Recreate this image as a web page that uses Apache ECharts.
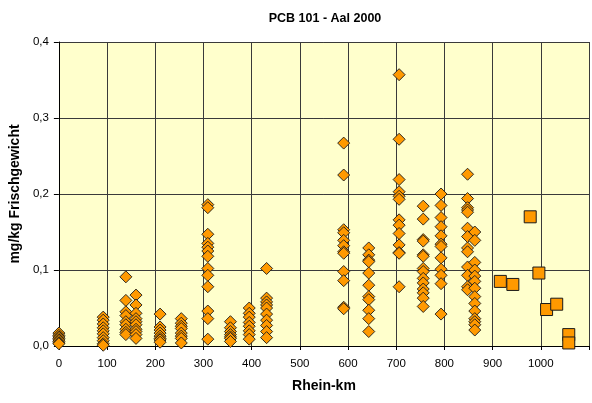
<!DOCTYPE html>
<html>
<head>
<meta charset="utf-8">
<script src="https://cdn.jsdelivr.net/npm/echarts@6/dist/echarts.min.js"></script>
<style>
  html, body { margin: 0; padding: 0; background: #ffffff; }
  #chart { width: 592px; height: 403px; }
</style>
</head>
<body>
<div id="chart"></div>
<script>
// Sampling sites along the Rhine (Rhein-km) and measured PCB 101 in eel (mg/kg wet weight)
const riverKm = [0, 92, 139, 160, 210, 254, 309, 356, 395, 431, 591, 643, 706, 756, 793, 848, 863];
const riverValues = [
  [0.017, 0.014, 0.012, 0.010, 0.008, 0.006, 0.004, 0.003],
  [0.038, 0.034, 0.029, 0.024, 0.020, 0.016, 0.011, 0.007, 0.003, 0.001],
  [0.091, 0.060, 0.045, 0.040, 0.032, 0.028, 0.022, 0.018, 0.015],
  [0.067, 0.054, 0.043, 0.036, 0.032, 0.028, 0.022, 0.019, 0.015, 0.010],
  [0.042, 0.025, 0.021, 0.017, 0.013, 0.010, 0.008, 0.005],
  [0.036, 0.030, 0.026, 0.023, 0.017, 0.013, 0.010, 0.004],
  [0.186, 0.182, 0.147, 0.135, 0.130, 0.125, 0.118, 0.102, 0.093, 0.078, 0.046, 0.036, 0.009],
  [0.032, 0.024, 0.019, 0.015, 0.012, 0.010, 0.006],
  [0.050, 0.043, 0.038, 0.031, 0.026, 0.020, 0.015, 0.009],
  [0.102, 0.063, 0.058, 0.054, 0.050, 0.042, 0.034, 0.027, 0.019, 0.011],
  [0.267, 0.225, 0.153, 0.149, 0.139, 0.132, 0.124, 0.122, 0.098, 0.086, 0.051, 0.049],
  [0.129, 0.120, 0.113, 0.111, 0.096, 0.080, 0.065, 0.061, 0.047, 0.036, 0.019],
  [0.357, 0.272, 0.219, 0.203, 0.197, 0.193, 0.166, 0.159, 0.148, 0.133, 0.123, 0.122, 0.078],
  [0.184, 0.167, 0.140, 0.138, 0.120, 0.118, 0.102, 0.098, 0.089, 0.083, 0.075, 0.070, 0.063, 0.052],
  [0.200, 0.185, 0.169, 0.157, 0.145, 0.134, 0.131, 0.116, 0.101, 0.093, 0.082, 0.042],
  [0.226, 0.194, 0.182, 0.179, 0.176, 0.155, 0.144, 0.129, 0.124, 0.104, 0.093, 0.078, 0.074],
  [0.150, 0.139, 0.110, 0.100, 0.092, 0.085, 0.076, 0.065, 0.056, 0.046, 0.036, 0.032, 0.028, 0.021]
];

// Lower Rhine / delta sites, shown as squares
const deltaKm = [916, 942, 978, 996, 1012, 1033, 1058, 1058];
const deltaValues = [0.085, 0.081, 0.170, 0.096, 0.048, 0.055, 0.015, 0.004];

const xTicks = { min: 0, max: 1100, step: 100 };
const yTicks = { min: 0, max: 0.4, step: 0.1 };

const riverData = [];
riverKm.forEach((km, i) => riverValues[i].forEach(v => riverData.push([km, v])));
const deltaData = deltaKm.map((km, i) => [km, deltaValues[i]]);

const chart = echarts.init(document.getElementById('chart'), null, { renderer: 'canvas' });
const font = '"Liberation Sans", Arial, sans-serif';

chart.setOption({
  animation: false,
  backgroundColor: '#ffffff',
  title: {
    text: 'PCB 101 - Aal 2000',
    left: 320,
    textAlign: 'center',
    top: 7,
    textStyle: { fontFamily: font, fontSize: 12.5, fontWeight: 'bold', color: '#000' }
  },
  grid: {
    left: 57.5,
    top: 42,
    width: 539.5,
    height: 304,
    show: true,
    backgroundColor: '#FFFFCC',
    borderWidth: 0
  },
  xAxis: {
    type: 'value',
    min: xTicks.min,
    max: xTicks.max,
    interval: xTicks.step,
    name: 'Rhein-km',
    nameLocation: 'middle',
    nameGap: 33,
    nameTextStyle: { fontFamily: font, fontSize: 14, fontWeight: 'bold', color: '#000' },
    axisLine: { show: true, onZero: false, lineStyle: { color: '#000', width: 1 } },
    axisTick: { show: true, length: 4, lineStyle: { color: '#000' } },
    axisLabel: {
      fontFamily: font, fontSize: 11.5, color: '#000', margin: 12,
      formatter: v => (v >= 1100 ? '' : String(v))
    },
    splitLine: { show: true, lineStyle: { color: '#3a3a3a', width: 1 } }
  },
  yAxis: {
    type: 'value',
    min: yTicks.min,
    max: yTicks.max,
    interval: yTicks.step,
    name: 'mg/kg Frischgewicht',
    nameLocation: 'middle',
    nameGap: 36,
    nameRotate: 90,
    nameTextStyle: { fontFamily: font, fontSize: 14, fontWeight: 'bold', color: '#000' },
    axisLine: { show: true, lineStyle: { color: '#000', width: 1 } },
    axisTick: { show: true, length: 5, lineStyle: { color: '#000' } },
    axisLabel: {
      fontFamily: font, fontSize: 11.5, color: '#000', margin: 10,
      formatter: v => v.toFixed(1).replace('.', ',')
    },
    splitLine: { show: true, lineStyle: { color: '#3a3a3a', width: 1 } }
  },
  series: [
    {
      name: 'Rhein',
      type: 'scatter',
      symbol: 'diamond',
      symbolSize: 12,
      data: riverData,
      itemStyle: { color: '#FF9900', opacity: 1, borderColor: '#1a1a1a', borderWidth: 0.9 }
    },
    {
      name: 'Delta',
      type: 'scatter',
      symbol: 'rect',
      symbolSize: 12,
      data: deltaData,
      itemStyle: { color: '#FF9900', opacity: 1, borderColor: '#1a1a1a', borderWidth: 1 }
    }
  ]
});
</script>
</body>
</html>
